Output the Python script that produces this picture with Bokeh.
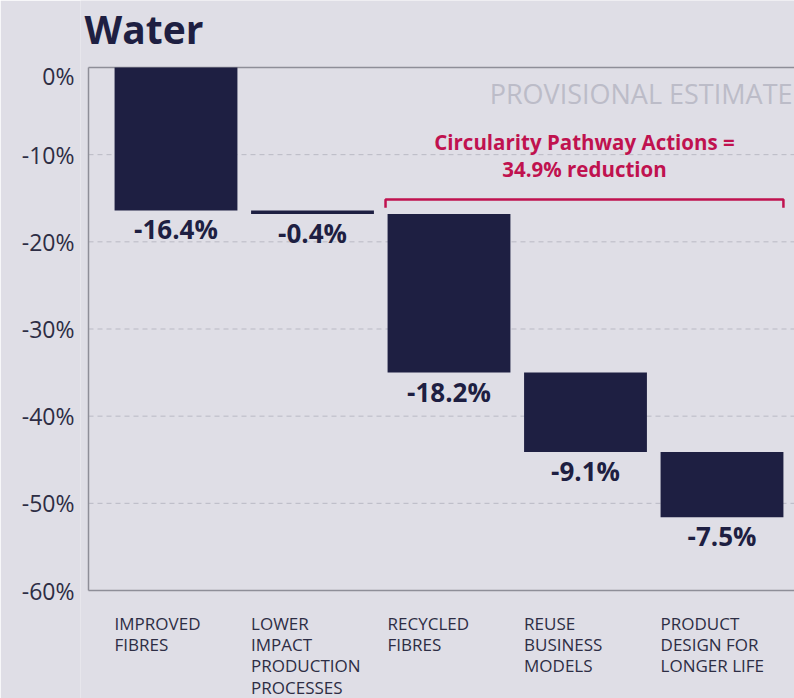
import numpy as np
from bokeh.plotting import figure
from bokeh.models import ColumnDataSource, FixedTicker, Label, Range1d
from bokeh.core.properties import value
from bokeh.embed import file_html
from bokeh.resources import INLINE

# ---- data ----
categories = ["IMPROVED\nFIBRES", "LOWER\nIMPACT\nPRODUCTION\nPROCESSES", "RECYCLED\nFIBRES",
              "REUSE\nBUSINESS\nMODELS", "PRODUCT\nDESIGN FOR\nLONGER LIFE"]
changes = [-16.4, -0.4, -18.2, -9.1, -7.5]
change_labels = ["-16.4%", "-0.4%", "-18.2%", "-9.1%", "-7.5%"]
y_ticks = [0, -10, -20, -30, -40, -50, -60]
y_tick_labels = ["0%", "-10%", "-20%", "-30%", "-40%", "-50%", "-60%"]
title_text = "Water"
note_text = "PROVISIONAL ESTIMATE"
bracket_line1 = "Circularity Pathway Actions ="
bracket_line2 = "34.9% reduction"
bracket_first, bracket_last = 2, 4

# ---- styles ----
BG = "#dfdee6"
NAVY = "#1e1f42"
TICK = "#2d2d44"
CRIMSON = "#c0124f"
GREY = "#bcbcc8"
GRID = "#b9b9c4"
BORDER = "#8e8e98"
FONT = "Open Sans"
BW = 0.9

idx = np.arange(len(changes))
ends = np.cumsum(changes)
starts = ends - np.array(changes)
src = ColumnDataSource(dict(x=idx, top=starts, bottom=ends, lab=change_labels))
y_min, y_max = y_ticks[-1], y_ticks[0]
cat_src = ColumnDataSource(dict(x=idx - BW / 2, y=np.full(len(idx), y_min), lab=categories))

# layout: plot box from px 88..794 horizontally, px 67..590 vertically
W, H = 794, 698
LEFT_PAD = 80
box_left_px, box_top_px, box_bottom_px = 88, 67, 590
step_px = 136.5
first_center_px = 175.5
px_per_unit = (box_bottom_px - box_top_px) / (y_max - y_min)
x0 = (LEFT_PAD - first_center_px) / step_px
x1 = (W - first_center_px) / step_px
xb = (box_left_px - first_center_px) / step_px
y_hi = y_max + box_top_px / px_per_unit
y_lo = y_min - (H - box_bottom_px) / px_per_unit

p = figure(width=W, height=H, output_backend="svg", toolbar_location=None,
           x_range=Range1d(x0, x1), y_range=Range1d(y_lo, y_hi), x_axis_location=None,
           min_border_left=LEFT_PAD, min_border_right=0, min_border_top=0, min_border_bottom=0,
           background_fill_color=BG, border_fill_color=BG)
p.outline_line_color = None
p.xgrid.grid_line_color = None
p.ygrid.grid_line_color = None

# grid lines (dashed) between the borders
p.segment(x0=[xb] * 5, x1=[x1] * 5, y0=y_ticks[1:-1], y1=y_ticks[1:-1],
          line_color=GRID, line_dash="5 4", line_width=1)
# plot box borders
p.segment(x0=[xb, xb, xb], x1=[x1, x1, xb], y0=[y_max, y_min, y_max], y1=[y_max, y_min, y_min],
          line_color=BORDER, line_width=1.5)

p.vbar(x="x", top="top", bottom="bottom", width=BW, source=src, fill_color=NAVY, line_color=None)
p.text(x="x", y="bottom", text="lab", source=src, text_font=value(FONT), text_font_size="26px",
       text_font_style="bold", text_color=NAVY, text_align="center", text_baseline="top", y_offset=1)

# y axis labels
ya = p.yaxis[0]
tick_pos = [t - 0.95 if t == 0 else t for t in y_ticks]
ya.ticker = FixedTicker(ticks=tick_pos)
ya.major_label_overrides = {tp: l for tp, l in zip(tick_pos, y_tick_labels)}
ya.major_label_text_font = FONT
ya.major_label_text_font_size = "23px"
ya.major_label_text_color = TICK
ya.major_tick_line_color = None
ya.major_tick_out = 0
ya.major_tick_in = 0
ya.minor_tick_line_color = None
ya.axis_line_color = None
ya.major_label_standoff = 6

# category labels
p.text(x="x", y="y", text="lab", source=cat_src, text_font=value(FONT), text_font_size="17px",
       text_color=TICK, text_align="left", text_baseline="top", text_line_height=0.93, y_offset=21)

# title
p.text(x=[xb], y=[y_max], text=[title_text], text_font=value(FONT), text_font_size="39px",
       text_font_style="bold", text_color=NAVY, text_align="left", text_baseline="alphabetic",
       x_offset=-4, y_offset=-39)

# provisional note
p.add_layout(Label(x=x1, y=y_max, text=note_text, text_font=FONT, text_font_size="27px",
                   text_color=GREY, text_align="right", text_baseline="middle", x_offset=-2, y_offset=-26))

# bracket
bl = bracket_first - BW / 2 - 0.015
br = bracket_last + BW / 2
by, bd = -15.15, -16.1
p.line(x=[bl, bl, br, br], y=[bd, by, by, bd], line_color=CRIMSON, line_width=2.5)
cx = (bl + br) / 2
p.add_layout(Label(x=cx, y=-8.5, text=bracket_line1, text_font=FONT, text_font_size="20.5px",
                   text_font_style="bold", text_color=CRIMSON, text_align="center", text_baseline="middle"))
p.add_layout(Label(x=cx, y=-11.6, text=bracket_line2, text_font=FONT, text_font_size="20.5px",
                   text_font_style="bold", text_color=CRIMSON, text_align="center", text_baseline="middle"))

open("out.html", "w").write(file_html(p, INLINE))
